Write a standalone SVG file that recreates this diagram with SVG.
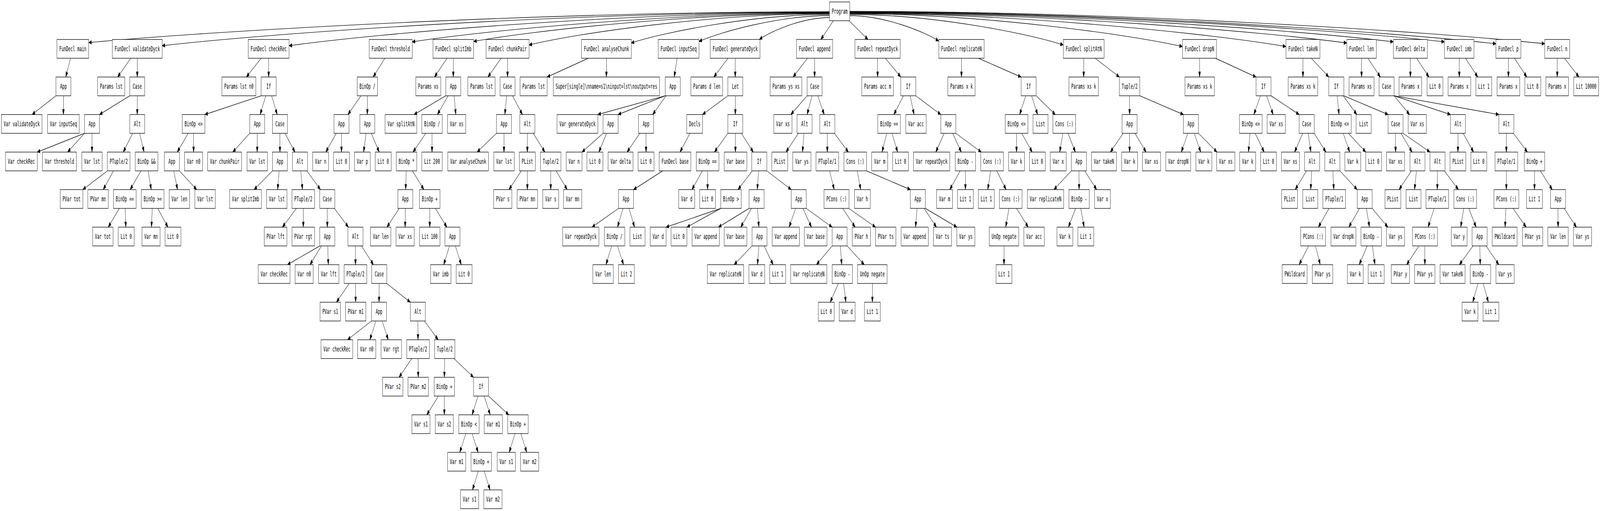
<svg xmlns="http://www.w3.org/2000/svg" width="7670" height="1307" viewBox="0 0 7670 1307" preserveAspectRatio="none">
<style>
svg{width:100vw;height:100vh}
.n rect{fill:#fff;stroke:#000;stroke-width:1.33}
.n text{font-family:"DejaVu Sans Mono","Liberation Mono",monospace;font-size:18px;text-anchor:middle;fill:#000}
.e path{fill:none;stroke:#000;stroke-width:1.33;marker-end:url(#ah)}
</style>
<defs>
<marker id="ah" markerUnits="userSpaceOnUse" markerWidth="14" markerHeight="10" refX="13.3" refY="4.7" orient="auto" overflow="visible"><path d="M0,0 L13.3,4.7 L0,9.4 z" fill="#000" stroke="#000" stroke-width="1"/></marker>
</defs>
<rect x="0" y="0" width="7670" height="1307" fill="#fff"/>
<g id="edges" class="e">
<path d="M3976,30 C2591,30 993,80 425,109"/>
<path d="M3976,31 C2728,31 1289,85 777,117"/>
<path d="M3976,32 C2966,32 1800,86 1386,117"/>
<path d="M3976,33 C3196,33 2296,80 1976,107"/>
<path d="M3976,34 C3311,34 2544,79 2271,106"/>
<path d="M3976,35 C3414,35 2766,85 2536,115"/>
<path d="M3976,37 C3606,37 3178,83 3026,110"/>
<path d="M3976,40 C3732,40 3451,82 3351,106"/>
<path d="M3976,45 C3845,45 3694,80 3640,101"/>
<path d="M3995,53 L3935,101"/>
<path d="M4070,53 L4161,101"/>
<path d="M4074,40 C4240,40 4432,81 4500,105"/>
<path d="M4074,37 C4473,37 4933,86 5097,115"/>
<path d="M4074,35 C4696,35 5413,88 5668,119"/>
<path d="M4074,34 C4889,34 5830,88 6164,119"/>
<path d="M4074,33 C5003,33 6075,82 6456,110"/>
<path d="M4074,32 C5090,32 6262,79 6679,107"/>
<path d="M4074,31 C5186,31 6468,79 6924,107"/>
<path d="M4074,30 C5282,30 6676,82 7171,112"/>
<path d="M4074,29 C5373,29 6872,81 7405,112"/>
<path d="M338,149 L315,197"/>
<path d="M268,245 L154,293"/>
<path d="M304,245 L304,293"/>
<path d="M627,149 L564,197"/>
<path d="M658,149 L658,197"/>
<path d="M622,245 L477,293"/>
<path d="M658,245 L658,293"/>
<path d="M405,341 L178.5,389"/>
<path d="M405,341 L324,389"/>
<path d="M441,341 L441,389"/>
<path d="M636,341 L591,389"/>
<path d="M669,341 L691,389"/>
<path d="M515,437 L397,485"/>
<path d="M544,437 L495,485"/>
<path d="M676,437 L624,485"/>
<path d="M710,437 L725,485"/>
<path d="M572,533 L519,581"/>
<path d="M600,533 L603,581"/>
<path d="M730,533 L726,581"/>
<path d="M756,533 L805,581"/>
<path d="M1252,149 L1181,197"/>
<path d="M1288,149 L1288,197"/>
<path d="M1252,245 L982,293"/>
<path d="M1274,245 L1247,293"/>
<path d="M1302,245 L1329,293"/>
<path d="M902,341 L850,389"/>
<path d="M928,341 L928,389"/>
<path d="M1197,341 L1116,389"/>
<path d="M1233,341 L1233,389"/>
<path d="M1342,341 L1342,389"/>
<path d="M1366,341 L1414,389"/>
<path d="M833,437 L851,485"/>
<path d="M860,437 L943,485"/>
<path d="M1306,437 L1218,485"/>
<path d="M1338,437 L1331,485"/>
<path d="M1442,437 L1450,485"/>
<path d="M1471,437 L1536,485"/>
<path d="M1421,533 L1354,581"/>
<path d="M1454,533 L1454,581"/>
<path d="M1569,533 L1569,581"/>
<path d="M1603,533 L1670,581"/>
<path d="M1533,629 L1378,677"/>
<path d="M1541,629 L1486,677"/>
<path d="M1571,629 L1574,677"/>
<path d="M1704,629 L1704,677"/>
<path d="M1733,629 L1790,677"/>
<path d="M1674,725 L1613,773"/>
<path d="M1704,725 L1705,773"/>
<path d="M1818,725 L1817,773"/>
<path d="M1854,725 L1967,773"/>
<path d="M1781,821 L1666,869"/>
<path d="M1802,821 L1773,869"/>
<path d="M1832,821 L1861,869"/>
<path d="M2003,821 L2004,869"/>
<path d="M2035,821 L2100,869"/>
<path d="M1974,917 L1913,965"/>
<path d="M2004,917 L2005,965"/>
<path d="M2132,917 L2130,965"/>
<path d="M2176,917 L2270,965"/>
<path d="M2102,1013 L2046,1061"/>
<path d="M2130,1013 L2130,1061"/>
<path d="M2292,1013 L2263,1061"/>
<path d="M2321,1013 L2350,1061"/>
<path d="M2342,1013 L2439,1061"/>
<path d="M2233,1109 L2204,1157"/>
<path d="M2263,1109 L2292,1157"/>
<path d="M2469,1109 L2441,1157"/>
<path d="M2497,1109 L2525,1157"/>
<path d="M2293,1205 L2265,1253"/>
<path d="M2321,1205 L2349,1253"/>
<path d="M1845,149 L1789,197"/>
<path d="M1730,245 L1668,293"/>
<path d="M1761,245 L1761,293"/>
<path d="M1612,341 L1562,389"/>
<path d="M1637,341 L1637,389"/>
<path d="M1755,341 L1743,389"/>
<path d="M1780,341 L1818,389"/>
<path d="M2143,149 L2083,197"/>
<path d="M2173,149 L2173,197"/>
<path d="M2137,245 L1985,293"/>
<path d="M2148,245 L2097,293"/>
<path d="M2177,245 L2185,293"/>
<path d="M2041,341 L1980,389"/>
<path d="M2071,341 L2071,389"/>
<path d="M1947.5,437 L1944.5,485"/>
<path d="M1977,437 L2032,485"/>
<path d="M1914,533 L1855,581"/>
<path d="M1943,533 L1942,581"/>
<path d="M2060,533 L2060,581"/>
<path d="M2087,533 L2142,581"/>
<path d="M2155,629 L2127,677"/>
<path d="M2183,629 L2211,677"/>
<path d="M2402,149 L2339,197"/>
<path d="M2433,149 L2433,197"/>
<path d="M2429,245 L2420,293"/>
<path d="M2457,245 L2504,293"/>
<path d="M2380,341 L2287,389"/>
<path d="M2416,341 L2416,389"/>
<path d="M2528,341 L2528,389"/>
<path d="M2556,341 L2612,389"/>
<path d="M2499,437 L2440,485"/>
<path d="M2528,437 L2528,485"/>
<path d="M2640,437 L2640,485"/>
<path d="M2666,437 L2719,485"/>
<path d="M2820,149 L2623,197"/>
<path d="M2907,149 L2907,197"/>
<path d="M3246,149 L3232,197"/>
<path d="M3189,245 L2866,293"/>
<path d="M3189,245 L2963,293"/>
<path d="M3193,245 L3129,293"/>
<path d="M2891,341 L2790,389"/>
<path d="M2908,341 L2871,389"/>
<path d="M3067,341 L3006,389"/>
<path d="M3097,341 L3097,389"/>
<path d="M3490,149 L3422,197"/>
<path d="M3524.5,149 L3524.5,197"/>
<path d="M3489,245 L3368,293"/>
<path d="M3525,245 L3525,293"/>
<path d="M3307,341 L3260,389"/>
<path d="M3177,437 L3037,485"/>
<path d="M2965,533 L2838,581"/>
<path d="M2987,533 L2960,581"/>
<path d="M3015,533 L3042,581"/>
<path d="M2932,629 L2905,677"/>
<path d="M2960,629 L2989,677"/>
<path d="M3489,341 L3425,389"/>
<path d="M3525.5,341 L3525.5,389"/>
<path d="M3554,341 L3611,389"/>
<path d="M3367,437 L3317,485"/>
<path d="M3392,437 L3392,485"/>
<path d="M3606,437 L3538,485"/>
<path d="M3637,437 L3630,485"/>
<path d="M3676,437 L3793,485"/>
<path d="M3455,533 L3193,581"/>
<path d="M3455,533 L3293,581"/>
<path d="M3591,533 L3444,581"/>
<path d="M3602,533 L3551,581"/>
<path d="M3631,533 L3638,581"/>
<path d="M3605,629 L3519,677"/>
<path d="M3638,629 L3631,677"/>
<path d="M3663,629 L3706,677"/>
<path d="M3814,533 L3783,581"/>
<path d="M3849,533 L3890,581"/>
<path d="M3865,533 L3989,581"/>
<path d="M3989,629 L3914,677"/>
<path d="M4028,629 L4035,677"/>
<path d="M4061,629 L4143,677"/>
<path d="M4019,725 L3980,773"/>
<path d="M4044,725 L4055,773"/>
<path d="M4182,725 L4182,773"/>
<path d="M3871,149 L3802,197"/>
<path d="M3905,149 L3905,197"/>
<path d="M3869,245 L3791,293"/>
<path d="M3893,245 L3869,293"/>
<path d="M3920,245 L3951,293"/>
<path d="M3827,341 L3768,389"/>
<path d="M3854,341 L3847,389"/>
<path d="M3966,341 L3966,389"/>
<path d="M4000,341 L4067,389"/>
<path d="M3977,437 L3999,485"/>
<path d="M4040,533 L4099,581"/>
<path d="M4069,533 L4197,581"/>
<path d="M4109,437 L4126,485"/>
<path d="M4154,437 L4364,485"/>
<path d="M4396,533 L4389,581"/>
<path d="M4430,533 L4489,581"/>
<path d="M4436,533 L4587,581"/>
<path d="M4207,149 L4207,197"/>
<path d="M4244,149 L4318,197"/>
<path d="M4331,245 L4285,293"/>
<path d="M4363,245 L4382,293"/>
<path d="M4390,245 L4510,293"/>
<path d="M4251,341 L4228,389"/>
<path d="M4276,341 L4303,389"/>
<path d="M4526,341 L4486,389"/>
<path d="M4567,341 L4608,389"/>
<path d="M4582,341 L4704,389"/>
<path d="M4603,437 L4553,485"/>
<path d="M4628,437 L4628,485"/>
<path d="M4749,437 L4735,485"/>
<path d="M4778,437 L4823,485"/>
<path d="M4837,533 L4821,581"/>
<path d="M4873,533 L4929,581"/>
<path d="M4813,629 L4813,677"/>
<path d="M4609,149 L4609,197"/>
<path d="M4690,149 L4895,197"/>
<path d="M4917,245 L4888,293"/>
<path d="M4945,245 L4974,293"/>
<path d="M4967,245 L5059,293"/>
<path d="M4873,341 L4873,389"/>
<path d="M4898,341 L4948,389"/>
<path d="M5095,341 L5080,389"/>
<path d="M5120,341 L5155,389"/>
<path d="M5136,437 L5052,485"/>
<path d="M5172,437 L5173,485"/>
<path d="M5200,437 L5257,485"/>
<path d="M5156,533 L5122,581"/>
<path d="M5181,533 L5197,581"/>
<path d="M5195,149 L5195,197"/>
<path d="M5250,149 L5366,197"/>
<path d="M5415,245 L5415,293"/>
<path d="M5464,245 L5673,293"/>
<path d="M5384,341 L5323,389"/>
<path d="M5415,341 L5415,389"/>
<path d="M5441,341 L5494,389"/>
<path d="M5694,341 L5663,389"/>
<path d="M5725,341 L5756,389"/>
<path d="M5745,341 L5834,389"/>
<path d="M5750.5,149 L5750.5,197"/>
<path d="M5827,149 L6021,197"/>
<path d="M6042,245 L6011,293"/>
<path d="M6072,245 L6103,293"/>
<path d="M6093,245 L6228,293"/>
<path d="M5992,341 L5985,389"/>
<path d="M6017,341 L6060,389"/>
<path d="M6245,341 L6206,389"/>
<path d="M6271,341 L6284,389"/>
<path d="M6300,341 L6356,389"/>
<path d="M6263,437 L6209,485"/>
<path d="M6288,437 L6283,485"/>
<path d="M6389,437 L6394,485"/>
<path d="M6423,437 L6506,485"/>
<path d="M6371,533 L6320,581"/>
<path d="M6273,629 L6228,677"/>
<path d="M6306,629 L6329,677"/>
<path d="M6517,533 L6466,581"/>
<path d="M6550,533 L6565,581"/>
<path d="M6578,533 L6653,581"/>
<path d="M6554,629 L6516,677"/>
<path d="M6579,629 L6591,677"/>
<path d="M6246,149 L6246,197"/>
<path d="M6286,149 L6370,197"/>
<path d="M6410,245 L6419,293"/>
<path d="M6439,245 L6504,293"/>
<path d="M6442,245 L6654,293"/>
<path d="M6439,341 L6470,389"/>
<path d="M6464,341 L6547,389"/>
<path d="M6690,341 L6690,389"/>
<path d="M6716,341 L6769,389"/>
<path d="M6726,341 L6855,389"/>
<path d="M6766,437 L6707,485"/>
<path d="M6790,437 L6781,485"/>
<path d="M6891,437 L6890,485"/>
<path d="M6924,437 L6991,485"/>
<path d="M6875,533 L6846,581"/>
<path d="M6802,629 L6743,677"/>
<path d="M6830.5,629 L6830.5,677"/>
<path d="M7017,533 L7002,581"/>
<path d="M7041,533 L7076,581"/>
<path d="M7061,629 L6996,677"/>
<path d="M7094,629 L7096,677"/>
<path d="M7124,629 L7185,677"/>
<path d="M7085,725 L7060,773"/>
<path d="M7110,725 L7135,773"/>
<path d="M6527,149 L6527,197"/>
<path d="M6557,149 L6617,197"/>
<path d="M6683,245 L6757,293"/>
<path d="M6683,245 L6953,293"/>
<path d="M6683,245 L7185,293"/>
<path d="M6989,341 L6989,389"/>
<path d="M7014,341 L7064,389"/>
<path d="M7221,341 L7221,389"/>
<path d="M7255,341 L7322,389"/>
<path d="M7221,437 L7221,485"/>
<path d="M7219,533 L7215,581"/>
<path d="M7253,533 L7316,581"/>
<path d="M7356,437 L7356,485"/>
<path d="M7384,437 L7441,485"/>
<path d="M7469,533 L7469,581"/>
<path d="M7498,533 L7557,581"/>
<path d="M6761,149 L6761,197"/>
<path d="M6791,149 L6850,197"/>
<path d="M6995.5,149 L6995.5,197"/>
<path d="M7025,149 L7084,197"/>
<path d="M7231,149 L7231,197"/>
<path d="M7260,149 L7319,197"/>
<path d="M7465,149 L7465,197"/>
<path d="M7500,149 L7569,197"/>
</g>
<g id="P" class="n"><rect x="3976.05" y="5" width="97.9" height="48"/><text x="4025" y="35.5">Program</text></g>
<g id="m0" class="n"><rect x="273" y="101" width="152" height="48"/><text x="349" y="131.5">FunDecl main</text></g>
<g id="m1" class="n"><rect x="268" y="197" width="72" height="48"/><text x="304" y="227.5">App</text></g>
<g id="m2" class="n"><rect x="6.3" y="293" width="195.4" height="48"/><text x="104" y="323.5">Var validateDyck</text></g>
<g id="m3" class="n"><rect x="228" y="293" width="152" height="48"/><text x="304" y="323.5">Var inputSeq</text></g>
<g id="v0" class="n"><rect x="538.6" y="101" width="238.8" height="48"/><text x="658" y="131.5">FunDecl validateDyck</text></g>
<g id="v1" class="n"><rect x="467.8" y="197" width="130.4" height="48"/><text x="533" y="227.5">Params lst</text></g>
<g id="v2" class="n"><rect x="622" y="197" width="72" height="48"/><text x="658" y="227.5">Case</text></g>
<g id="v3" class="n"><rect x="405" y="293" width="72" height="48"/><text x="441" y="323.5">App</text></g>
<g id="v4" class="n"><rect x="622" y="293" width="72" height="48"/><text x="658" y="323.5">Alt</text></g>
<g id="v5" class="n"><rect x="26.5" y="389" width="152" height="48"/><text x="102.5" y="419.5">Var checkRec</text></g>
<g id="v6" class="n"><rect x="203.55" y="389" width="162.9" height="48"/><text x="285" y="419.5">Var threshold</text></g>
<g id="v7" class="n"><rect x="392.05" y="389" width="97.9" height="48"/><text x="441" y="419.5">Var lst</text></g>
<g id="v8" class="n"><rect x="514.65" y="389" width="108.7" height="48"/><text x="569" y="419.5">PTuple/2</text></g>
<g id="v9" class="n"><rect x="648.15" y="389" width="108.7" height="48"/><text x="702.5" y="419.5">BinOp &amp;&amp;</text></g>
<g id="v10" class="n"><rect x="288.65" y="485" width="108.7" height="48"/><text x="343" y="515.5">PVar tot</text></g>
<g id="v11" class="n"><rect x="421.05" y="485" width="97.9" height="48"/><text x="470" y="515.5">PVar mn</text></g>
<g id="v12" class="n"><rect x="543.65" y="485" width="108.7" height="48"/><text x="598" y="515.5">BinOp ==</text></g>
<g id="v13" class="n"><rect x="677.65" y="485" width="108.7" height="48"/><text x="732" y="515.5">BinOp &gt;=</text></g>
<g id="v14" class="n"><rect x="444.05" y="581" width="97.9" height="48"/><text x="493" y="611.5">Var tot</text></g>
<g id="v15" class="n"><rect x="566.9" y="581" width="76.2" height="48"/><text x="605" y="611.5">Lit 0</text></g>
<g id="v16" class="n"><rect x="680.5" y="581" width="87" height="48"/><text x="724" y="611.5">Var mn</text></g>
<g id="v17" class="n"><rect x="790.9" y="581" width="76.2" height="48"/><text x="829" y="611.5">Lit 0</text></g>
<g id="c0" class="n"><rect x="1190.3" y="101" width="195.4" height="48"/><text x="1288" y="131.5">FunDecl checkRec</text></g>
<g id="c1" class="n"><rect x="1063.55" y="197" width="162.9" height="48"/><text x="1145" y="227.5">Params lst n0</text></g>
<g id="c2" class="n"><rect x="1252" y="197" width="72" height="48"/><text x="1288" y="227.5">If</text></g>
<g id="c3" class="n"><rect x="873.65" y="293" width="108.7" height="48"/><text x="928" y="323.5">BinOp &lt;=</text></g>
<g id="c4" class="n"><rect x="1197" y="293" width="72" height="48"/><text x="1233" y="323.5">App</text></g>
<g id="c5" class="n"><rect x="1306" y="293" width="72" height="48"/><text x="1342" y="323.5">Case</text></g>
<g id="c6" class="n"><rect x="788" y="389" width="72" height="48"/><text x="824" y="419.5">App</text></g>
<g id="c7" class="n"><rect x="884.5" y="389" width="87" height="48"/><text x="928" y="419.5">Var n0</text></g>
<g id="c8" class="n"><rect x="995.55" y="389" width="162.9" height="48"/><text x="1077" y="419.5">Var chunkPair</text></g>
<g id="c9" class="n"><rect x="1184.05" y="389" width="97.9" height="48"/><text x="1233" y="419.5">Var lst</text></g>
<g id="c10" class="n"><rect x="1306" y="389" width="72" height="48"/><text x="1342" y="419.5">App</text></g>
<g id="c11" class="n"><rect x="1402" y="389" width="72" height="48"/><text x="1438" y="419.5">Alt</text></g>
<g id="c12" class="n"><rect x="811.05" y="485" width="97.9" height="48"/><text x="860" y="515.5">Var len</text></g>
<g id="c13" class="n"><rect x="934.05" y="485" width="97.9" height="48"/><text x="983" y="515.5">Var lst</text></g>
<g id="c14" class="n"><rect x="1101" y="485" width="152" height="48"/><text x="1177" y="515.5">Var splitImb</text></g>
<g id="c15" class="n"><rect x="1278.05" y="485" width="97.9" height="48"/><text x="1327" y="515.5">Var lst</text></g>
<g id="c16" class="n"><rect x="1399.65" y="485" width="108.7" height="48"/><text x="1454" y="515.5">PTuple/2</text></g>
<g id="c17" class="n"><rect x="1533" y="485" width="72" height="48"/><text x="1569" y="515.5">Case</text></g>
<g id="c18" class="n"><rect x="1266.65" y="581" width="108.7" height="48"/><text x="1321" y="611.5">PVar lft</text></g>
<g id="c19" class="n"><rect x="1399.65" y="581" width="108.7" height="48"/><text x="1454" y="611.5">PVar rgt</text></g>
<g id="c20" class="n"><rect x="1533" y="581" width="72" height="48"/><text x="1569" y="611.5">App</text></g>
<g id="c21" class="n"><rect x="1668" y="581" width="72" height="48"/><text x="1704" y="611.5">Alt</text></g>
<g id="c22" class="n"><rect x="1238" y="677" width="152" height="48"/><text x="1314" y="707.5">Var checkRec</text></g>
<g id="c23" class="n"><rect x="1414.5" y="677" width="87" height="48"/><text x="1458" y="707.5">Var n0</text></g>
<g id="c24" class="n"><rect x="1527.05" y="677" width="97.9" height="48"/><text x="1576" y="707.5">Var lft</text></g>
<g id="c25" class="n"><rect x="1649.65" y="677" width="108.7" height="48"/><text x="1704" y="707.5">PTuple/2</text></g>
<g id="c26" class="n"><rect x="1782" y="677" width="72" height="48"/><text x="1818" y="707.5">Case</text></g>
<g id="c27" class="n"><rect x="1534.05" y="773" width="97.9" height="48"/><text x="1583" y="803.5">PVar s1</text></g>
<g id="c28" class="n"><rect x="1656.05" y="773" width="97.9" height="48"/><text x="1705" y="803.5">PVar m1</text></g>
<g id="c29" class="n"><rect x="1781" y="773" width="72" height="48"/><text x="1817" y="803.5">App</text></g>
<g id="c30" class="n"><rect x="1967" y="773" width="72" height="48"/><text x="2003" y="803.5">Alt</text></g>
<g id="c31" class="n"><rect x="1539" y="869" width="152" height="48"/><text x="1615" y="899.5">Var checkRec</text></g>
<g id="c32" class="n"><rect x="1714.5" y="869" width="87" height="48"/><text x="1758" y="899.5">Var n0</text></g>
<g id="c33" class="n"><rect x="1827.05" y="869" width="97.9" height="48"/><text x="1876" y="899.5">Var rgt</text></g>
<g id="c34" class="n"><rect x="1949.65" y="869" width="108.7" height="48"/><text x="2004" y="899.5">PTuple/2</text></g>
<g id="c35" class="n"><rect x="2083.05" y="869" width="97.9" height="48"/><text x="2132" y="899.5">Tuple/2</text></g>
<g id="c36" class="n"><rect x="1834.05" y="965" width="97.9" height="48"/><text x="1883" y="995.5">PVar s2</text></g>
<g id="c37" class="n"><rect x="1956.05" y="965" width="97.9" height="48"/><text x="2005" y="995.5">PVar m2</text></g>
<g id="c38" class="n"><rect x="2081.05" y="965" width="97.9" height="48"/><text x="2130" y="995.5">BinOp +</text></g>
<g id="c39" class="n"><rect x="2270" y="965" width="72" height="48"/><text x="2306" y="995.5">If</text></g>
<g id="c40" class="n"><rect x="1974.5" y="1061" width="87" height="48"/><text x="2018" y="1091.5">Var s1</text></g>
<g id="c41" class="n"><rect x="2086.5" y="1061" width="87" height="48"/><text x="2130" y="1091.5">Var s2</text></g>
<g id="c42" class="n"><rect x="2199.05" y="1061" width="97.9" height="48"/><text x="2248" y="1091.5">BinOp &lt;</text></g>
<g id="c43" class="n"><rect x="2321.5" y="1061" width="87" height="48"/><text x="2365" y="1091.5">Var m1</text></g>
<g id="c44" class="n"><rect x="2434.05" y="1061" width="97.9" height="48"/><text x="2483" y="1091.5">BinOp +</text></g>
<g id="c45" class="n"><rect x="2145.5" y="1157" width="87" height="48"/><text x="2189" y="1187.5">Var m1</text></g>
<g id="c46" class="n"><rect x="2258.05" y="1157" width="97.9" height="48"/><text x="2307" y="1187.5">BinOp +</text></g>
<g id="c47" class="n"><rect x="2383.5" y="1157" width="87" height="48"/><text x="2427" y="1187.5">Var s1</text></g>
<g id="c48" class="n"><rect x="2495.5" y="1157" width="87" height="48"/><text x="2539" y="1187.5">Var m2</text></g>
<g id="c49" class="n"><rect x="2207.5" y="1253" width="87" height="48"/><text x="2251" y="1283.5">Var s1</text></g>
<g id="c50" class="n"><rect x="2319.5" y="1253" width="87" height="48"/><text x="2363" y="1283.5">Var m2</text></g>
<g id="t0" class="n"><rect x="1769.85" y="101" width="206.3" height="48"/><text x="1873" y="131.5">FunDecl threshold</text></g>
<g id="t1" class="n"><rect x="1712.05" y="197" width="97.9" height="48"/><text x="1761" y="227.5">BinOp /</text></g>
<g id="t2" class="n"><rect x="1601" y="293" width="72" height="48"/><text x="1637" y="323.5">App</text></g>
<g id="t3" class="n"><rect x="1725" y="293" width="72" height="48"/><text x="1761" y="323.5">App</text></g>
<g id="t4" class="n"><rect x="1498.9" y="389" width="76.2" height="48"/><text x="1537" y="419.5">Var n</text></g>
<g id="t5" class="n"><rect x="1598.9" y="389" width="76.2" height="48"/><text x="1637" y="419.5">Lit 0</text></g>
<g id="t6" class="n"><rect x="1698.9" y="389" width="76.2" height="48"/><text x="1737" y="419.5">Var p</text></g>
<g id="t7" class="n"><rect x="1798.9" y="389" width="76.2" height="48"/><text x="1837" y="419.5">Lit 0</text></g>
<g id="s0" class="n"><rect x="2075.3" y="101" width="195.4" height="48"/><text x="2173" y="131.5">FunDecl splitImb</text></g>
<g id="s1" class="n"><rect x="1993.2" y="197" width="119.6" height="48"/><text x="2053" y="227.5">Params xs</text></g>
<g id="s2" class="n"><rect x="2137" y="197" width="72" height="48"/><text x="2173" y="227.5">App</text></g>
<g id="s3" class="n"><rect x="1846" y="293" width="152" height="48"/><text x="1922" y="323.5">Var splitAtN</text></g>
<g id="s4" class="n"><rect x="2022.05" y="293" width="97.9" height="48"/><text x="2071" y="323.5">BinOp /</text></g>
<g id="s5" class="n"><rect x="2145.5" y="293" width="87" height="48"/><text x="2189" y="323.5">Var xs</text></g>
<g id="s6" class="n"><rect x="1900.05" y="389" width="97.9" height="48"/><text x="1949" y="419.5">BinOp *</text></g>
<g id="s7" class="n"><rect x="2022.05" y="389" width="97.9" height="48"/><text x="2071" y="419.5">Lit 200</text></g>
<g id="s8" class="n"><rect x="1907" y="485" width="72" height="48"/><text x="1943" y="515.5">App</text></g>
<g id="s9" class="n"><rect x="2011.05" y="485" width="97.9" height="48"/><text x="2060" y="515.5">BinOp +</text></g>
<g id="s10" class="n"><rect x="1776.05" y="581" width="97.9" height="48"/><text x="1825" y="611.5">Var len</text></g>
<g id="s11" class="n"><rect x="1898.5" y="581" width="87" height="48"/><text x="1942" y="611.5">Var xs</text></g>
<g id="s12" class="n"><rect x="2011.05" y="581" width="97.9" height="48"/><text x="2060" y="611.5">Lit 100</text></g>
<g id="s13" class="n"><rect x="2133" y="581" width="72" height="48"/><text x="2169" y="611.5">App</text></g>
<g id="s14" class="n"><rect x="2064.05" y="677" width="97.9" height="48"/><text x="2113" y="707.5">Var imb</text></g>
<g id="s15" class="n"><rect x="2186.9" y="677" width="76.2" height="48"/><text x="2225" y="707.5">Lit 0</text></g>
<g id="k0" class="n"><rect x="2329.85" y="101" width="206.3" height="48"/><text x="2433" y="131.5">FunDecl chunkPair</text></g>
<g id="k1" class="n"><rect x="2242.8" y="197" width="130.4" height="48"/><text x="2308" y="227.5">Params lst</text></g>
<g id="k2" class="n"><rect x="2397" y="197" width="72" height="48"/><text x="2433" y="227.5">Case</text></g>
<g id="k3" class="n"><rect x="2380" y="293" width="72" height="48"/><text x="2416" y="323.5">App</text></g>
<g id="k4" class="n"><rect x="2492" y="293" width="72" height="48"/><text x="2528" y="323.5">Alt</text></g>
<g id="k5" class="n"><rect x="2146.3" y="389" width="195.4" height="48"/><text x="2244" y="419.5">Var analyseChunk</text></g>
<g id="k6" class="n"><rect x="2367.05" y="389" width="97.9" height="48"/><text x="2416" y="419.5">Var lst</text></g>
<g id="k7" class="n"><rect x="2489.9" y="389" width="76.2" height="48"/><text x="2528" y="419.5">PList</text></g>
<g id="k8" class="n"><rect x="2591.05" y="389" width="97.9" height="48"/><text x="2640" y="419.5">Tuple/2</text></g>
<g id="k9" class="n"><rect x="2366.5" y="485" width="87" height="48"/><text x="2410" y="515.5">PVar s</text></g>
<g id="k10" class="n"><rect x="2479.05" y="485" width="97.9" height="48"/><text x="2528" y="515.5">PVar mn</text></g>
<g id="k11" class="n"><rect x="2601.9" y="485" width="76.2" height="48"/><text x="2640" y="515.5">Var s</text></g>
<g id="k12" class="n"><rect x="2701.5" y="485" width="87" height="48"/><text x="2745" y="515.5">Var mn</text></g>
<g id="a0" class="n"><rect x="2787.6" y="101" width="238.8" height="48"/><text x="2907" y="131.5">FunDecl analyseChunk</text></g>
<g id="a1" class="n"><rect x="2492.8" y="197" width="130.4" height="48"/><text x="2558" y="227.5">Params lst</text></g>
<g id="a2" class="n"><rect x="2652.1" y="197" width="509.8" height="48"/><text x="2907" y="227.5">Super[single]\nname=s1\ninput=lst\noutput=res</text></g>
<g id="i0" class="n"><rect x="3155.3" y="101" width="195.4" height="48"/><text x="3253" y="131.5">FunDecl inputSeq</text></g>
<g id="i1" class="n"><rect x="3189" y="197" width="72" height="48"/><text x="3225" y="227.5">App</text></g>
<g id="i2" class="n"><rect x="2670.3" y="293" width="195.4" height="48"/><text x="2768" y="323.5">Var generateDyck</text></g>
<g id="i3" class="n"><rect x="2891" y="293" width="72" height="48"/><text x="2927" y="323.5">App</text></g>
<g id="i4" class="n"><rect x="3061" y="293" width="72" height="48"/><text x="3097" y="323.5">App</text></g>
<g id="i5" class="n"><rect x="2713.9" y="389" width="76.2" height="48"/><text x="2752" y="419.5">Var n</text></g>
<g id="i6" class="n"><rect x="2813.9" y="389" width="76.2" height="48"/><text x="2852" y="419.5">Lit 0</text></g>
<g id="i7" class="n"><rect x="2915.2" y="389" width="119.6" height="48"/><text x="2975" y="419.5">Var delta</text></g>
<g id="i8" class="n"><rect x="3058.9" y="389" width="76.2" height="48"/><text x="3097" y="419.5">Lit 0</text></g>
<g id="g0" class="n"><rect x="3404.6" y="101" width="238.8" height="48"/><text x="3524" y="131.5">FunDecl generateDyck</text></g>
<g id="g1" class="n"><rect x="3312" y="197" width="152" height="48"/><text x="3388" y="227.5">Params d len</text></g>
<g id="g2" class="n"><rect x="3489" y="197" width="72" height="48"/><text x="3525" y="227.5">Let</text></g>
<g id="g3" class="n"><rect x="3291.9" y="293" width="76.2" height="48"/><text x="3330" y="323.5">Decls</text></g>
<g id="g4" class="n"><rect x="3489" y="293" width="72" height="48"/><text x="3525" y="323.5">If</text></g>
<g id="g5" class="n"><rect x="3160" y="389" width="152" height="48"/><text x="3236" y="419.5">FunDecl base</text></g>
<g id="g6" class="n"><rect x="3337.65" y="389" width="108.7" height="48"/><text x="3392" y="419.5">BinOp ==</text></g>
<g id="g7" class="n"><rect x="3471.65" y="389" width="108.7" height="48"/><text x="3526" y="419.5">Var base</text></g>
<g id="g8" class="n"><rect x="3604" y="389" width="72" height="48"/><text x="3640" y="419.5">If</text></g>
<g id="g9" class="n"><rect x="2965" y="485" width="72" height="48"/><text x="3001" y="515.5">App</text></g>
<g id="g10" class="n"><rect x="3253.9" y="485" width="76.2" height="48"/><text x="3292" y="515.5">Var d</text></g>
<g id="g11" class="n"><rect x="3353.9" y="485" width="76.2" height="48"/><text x="3392" y="515.5">Lit 0</text></g>
<g id="g12" class="n"><rect x="3455.05" y="485" width="97.9" height="48"/><text x="3504" y="515.5">BinOp &gt;</text></g>
<g id="g13" class="n"><rect x="3591" y="485" width="72" height="48"/><text x="3627" y="515.5">App</text></g>
<g id="g14" class="n"><rect x="3793" y="485" width="72" height="48"/><text x="3829" y="515.5">App</text></g>
<g id="g15" class="n"><rect x="2697.1" y="581" width="173.8" height="48"/><text x="2784" y="611.5">Var repeatDyck</text></g>
<g id="g16" class="n"><rect x="2897.05" y="581" width="97.9" height="48"/><text x="2946" y="611.5">BinOp /</text></g>
<g id="g17" class="n"><rect x="3020" y="581" width="72" height="48"/><text x="3056" y="611.5">List</text></g>
<g id="g18" class="n"><rect x="3116.9" y="581" width="76.2" height="48"/><text x="3155" y="611.5">Var d</text></g>
<g id="g19" class="n"><rect x="3216.9" y="581" width="76.2" height="48"/><text x="3255" y="611.5">Lit 0</text></g>
<g id="g20" class="n"><rect x="3317.8" y="581" width="130.4" height="48"/><text x="3383" y="611.5">Var append</text></g>
<g id="g21" class="n"><rect x="3471.65" y="581" width="108.7" height="48"/><text x="3526" y="611.5">Var base</text></g>
<g id="g22" class="n"><rect x="3605" y="581" width="72" height="48"/><text x="3641" y="611.5">App</text></g>
<g id="g23" class="n"><rect x="3701.8" y="581" width="130.4" height="48"/><text x="3767" y="611.5">Var append</text></g>
<g id="g24" class="n"><rect x="3855.65" y="581" width="108.7" height="48"/><text x="3910" y="611.5">Var base</text></g>
<g id="g25" class="n"><rect x="3989" y="581" width="72" height="48"/><text x="4025" y="611.5">App</text></g>
<g id="g26" class="n"><rect x="2842.05" y="677" width="97.9" height="48"/><text x="2891" y="707.5">Var len</text></g>
<g id="g27" class="n"><rect x="2964.9" y="677" width="76.2" height="48"/><text x="3003" y="707.5">Lit 2</text></g>
<g id="g28" class="n"><rect x="3391.1" y="677" width="173.8" height="48"/><text x="3478" y="707.5">Var replicateN</text></g>
<g id="g29" class="n"><rect x="3589.9" y="677" width="76.2" height="48"/><text x="3628" y="707.5">Var d</text></g>
<g id="g30" class="n"><rect x="3689.9" y="677" width="76.2" height="48"/><text x="3728" y="707.5">Lit 1</text></g>
<g id="g31" class="n"><rect x="3790.1" y="677" width="173.8" height="48"/><text x="3877" y="707.5">Var replicateN</text></g>
<g id="g32" class="n"><rect x="3989.05" y="677" width="97.9" height="48"/><text x="4038" y="707.5">BinOp -</text></g>
<g id="g33" class="n"><rect x="4111.4" y="677" width="141.2" height="48"/><text x="4182" y="707.5">UnOp negate</text></g>
<g id="g34" class="n"><rect x="3922.9" y="773" width="76.2" height="48"/><text x="3961" y="803.5">Lit 0</text></g>
<g id="g35" class="n"><rect x="4022.9" y="773" width="76.2" height="48"/><text x="4061" y="803.5">Var d</text></g>
<g id="g36" class="n"><rect x="4143.9" y="773" width="76.2" height="48"/><text x="4182" y="803.5">Lit 1</text></g>
<g id="p0" class="n"><rect x="3818.1" y="101" width="173.8" height="48"/><text x="3905" y="131.5">FunDecl append</text></g>
<g id="p1" class="n"><rect x="3692" y="197" width="152" height="48"/><text x="3768" y="227.5">Params ys xs</text></g>
<g id="p2" class="n"><rect x="3869" y="197" width="72" height="48"/><text x="3905" y="227.5">Case</text></g>
<g id="p3" class="n"><rect x="3709.5" y="293" width="87" height="48"/><text x="3753" y="323.5">Var xs</text></g>
<g id="p4" class="n"><rect x="3821" y="293" width="72" height="48"/><text x="3857" y="323.5">Alt</text></g>
<g id="p5" class="n"><rect x="3930" y="293" width="72" height="48"/><text x="3966" y="323.5">Alt</text></g>
<g id="p6" class="n"><rect x="3699.9" y="389" width="76.2" height="48"/><text x="3738" y="419.5">PList</text></g>
<g id="p7" class="n"><rect x="3800.5" y="389" width="87" height="48"/><text x="3844" y="419.5">Var ys</text></g>
<g id="p8" class="n"><rect x="3911.65" y="389" width="108.7" height="48"/><text x="3966" y="419.5">PTuple/1</text></g>
<g id="p9" class="n"><rect x="4045.65" y="389" width="108.7" height="48"/><text x="4100" y="419.5">Cons (:)</text></g>
<g id="p10" class="n"><rect x="3950.2" y="485" width="119.6" height="48"/><text x="4010" y="515.5">PCons (:)</text></g>
<g id="p11" class="n"><rect x="4095.9" y="485" width="76.2" height="48"/><text x="4134" y="515.5">Var h</text></g>
<g id="p12" class="n"><rect x="4364" y="485" width="72" height="48"/><text x="4400" y="515.5">App</text></g>
<g id="p13" class="n"><rect x="4085.5" y="581" width="87" height="48"/><text x="4129" y="611.5">PVar h</text></g>
<g id="p14" class="n"><rect x="4197.05" y="581" width="97.9" height="48"/><text x="4246" y="611.5">PVar ts</text></g>
<g id="p15" class="n"><rect x="4319.8" y="581" width="130.4" height="48"/><text x="4385" y="611.5">Var append</text></g>
<g id="p16" class="n"><rect x="4474.5" y="581" width="87" height="48"/><text x="4518" y="611.5">Var ts</text></g>
<g id="p17" class="n"><rect x="4586.5" y="581" width="87" height="48"/><text x="4630" y="611.5">Var ys</text></g>
<g id="r0" class="n"><rect x="4098.5" y="101" width="217" height="48"/><text x="4207" y="131.5">FunDecl repeatDyck</text></g>
<g id="r1" class="n"><rect x="4131" y="197" width="152" height="48"/><text x="4207" y="227.5">Params acc m</text></g>
<g id="r2" class="n"><rect x="4318" y="197" width="72" height="48"/><text x="4354" y="227.5">If</text></g>
<g id="r3" class="n"><rect x="4207.65" y="293" width="108.7" height="48"/><text x="4262" y="323.5">BinOp ==</text></g>
<g id="r4" class="n"><rect x="4342.05" y="293" width="97.9" height="48"/><text x="4391" y="323.5">Var acc</text></g>
<g id="r5" class="n"><rect x="4510" y="293" width="72" height="48"/><text x="4546" y="323.5">App</text></g>
<g id="r6" class="n"><rect x="4178.9" y="389" width="76.2" height="48"/><text x="4217" y="419.5">Var m</text></g>
<g id="r7" class="n"><rect x="4278.9" y="389" width="76.2" height="48"/><text x="4317" y="419.5">Lit 0</text></g>
<g id="r8" class="n"><rect x="4379.1" y="389" width="173.8" height="48"/><text x="4466" y="419.5">Var repeatDyck</text></g>
<g id="r9" class="n"><rect x="4579.05" y="389" width="97.9" height="48"/><text x="4628" y="419.5">BinOp -</text></g>
<g id="r10" class="n"><rect x="4701.65" y="389" width="108.7" height="48"/><text x="4756" y="419.5">Cons (:)</text></g>
<g id="r11" class="n"><rect x="4489.9" y="485" width="76.2" height="48"/><text x="4528" y="515.5">Var m</text></g>
<g id="r12" class="n"><rect x="4589.9" y="485" width="76.2" height="48"/><text x="4628" y="515.5">Lit 1</text></g>
<g id="r13" class="n"><rect x="4689.9" y="485" width="76.2" height="48"/><text x="4728" y="515.5">Lit 1</text></g>
<g id="r14" class="n"><rect x="4790.65" y="485" width="108.7" height="48"/><text x="4845" y="515.5">Cons (:)</text></g>
<g id="r15" class="n"><rect x="4742.4" y="581" width="141.2" height="48"/><text x="4813" y="611.5">UnOp negate</text></g>
<g id="r16" class="n"><rect x="4908.05" y="581" width="97.9" height="48"/><text x="4957" y="611.5">Var acc</text></g>
<g id="r17" class="n"><rect x="4774.9" y="677" width="76.2" height="48"/><text x="4813" y="707.5">Lit 1</text></g>
<g id="q0" class="n"><rect x="4500.5" y="101" width="217" height="48"/><text x="4609" y="131.5">FunDecl replicateN</text></g>
<g id="q1" class="n"><rect x="4543.8" y="197" width="130.4" height="48"/><text x="4609" y="227.5">Params x k</text></g>
<g id="q2" class="n"><rect x="4895" y="197" width="72" height="48"/><text x="4931" y="227.5">If</text></g>
<g id="q3" class="n"><rect x="4818.65" y="293" width="108.7" height="48"/><text x="4873" y="323.5">BinOp &lt;=</text></g>
<g id="q4" class="n"><rect x="4952" y="293" width="72" height="48"/><text x="4988" y="323.5">List</text></g>
<g id="q5" class="n"><rect x="5047.65" y="293" width="108.7" height="48"/><text x="5102" y="323.5">Cons (:)</text></g>
<g id="q6" class="n"><rect x="4834.9" y="389" width="76.2" height="48"/><text x="4873" y="419.5">Var k</text></g>
<g id="q7" class="n"><rect x="4934.9" y="389" width="76.2" height="48"/><text x="4973" y="419.5">Lit 0</text></g>
<g id="q8" class="n"><rect x="5034.9" y="389" width="76.2" height="48"/><text x="5073" y="419.5">Var x</text></g>
<g id="q9" class="n"><rect x="5136" y="389" width="72" height="48"/><text x="5172" y="419.5">App</text></g>
<g id="q10" class="n"><rect x="4925.1" y="485" width="173.8" height="48"/><text x="5012" y="515.5">Var replicateN</text></g>
<g id="q11" class="n"><rect x="5124.05" y="485" width="97.9" height="48"/><text x="5173" y="515.5">BinOp -</text></g>
<g id="q12" class="n"><rect x="5246.9" y="485" width="76.2" height="48"/><text x="5285" y="515.5">Var x</text></g>
<g id="q13" class="n"><rect x="5066.9" y="581" width="76.2" height="48"/><text x="5105" y="611.5">Var k</text></g>
<g id="q14" class="n"><rect x="5166.9" y="581" width="76.2" height="48"/><text x="5205" y="611.5">Lit 1</text></g>
<g id="x0" class="n"><rect x="5097.3" y="101" width="195.4" height="48"/><text x="5195" y="131.5">FunDecl splitAtN</text></g>
<g id="x1" class="n"><rect x="5124.4" y="197" width="141.2" height="48"/><text x="5195" y="227.5">Params xs k</text></g>
<g id="x2" class="n"><rect x="5366.05" y="197" width="97.9" height="48"/><text x="5415" y="227.5">Tuple/2</text></g>
<g id="x3" class="n"><rect x="5379" y="293" width="72" height="48"/><text x="5415" y="323.5">App</text></g>
<g id="x4" class="n"><rect x="5673" y="293" width="72" height="48"/><text x="5709" y="323.5">App</text></g>
<g id="x5" class="n"><rect x="5232.2" y="389" width="119.6" height="48"/><text x="5292" y="419.5">Var takeN</text></g>
<g id="x6" class="n"><rect x="5376.9" y="389" width="76.2" height="48"/><text x="5415" y="419.5">Var k</text></g>
<g id="x7" class="n"><rect x="5476.5" y="389" width="87" height="48"/><text x="5520" y="419.5">Var xs</text></g>
<g id="x8" class="n"><rect x="5588.2" y="389" width="119.6" height="48"/><text x="5648" y="419.5">Var dropN</text></g>
<g id="x9" class="n"><rect x="5732.9" y="389" width="76.2" height="48"/><text x="5771" y="419.5">Var k</text></g>
<g id="x10" class="n"><rect x="5832.5" y="389" width="87" height="48"/><text x="5876" y="419.5">Var xs</text></g>
<g id="d0" class="n"><rect x="5668.55" y="101" width="162.9" height="48"/><text x="5750" y="131.5">FunDecl dropN</text></g>
<g id="d1" class="n"><rect x="5680.4" y="197" width="141.2" height="48"/><text x="5751" y="227.5">Params xs k</text></g>
<g id="d2" class="n"><rect x="6021" y="197" width="72" height="48"/><text x="6057" y="227.5">If</text></g>
<g id="d3" class="n"><rect x="5941.65" y="293" width="108.7" height="48"/><text x="5996" y="323.5">BinOp &lt;=</text></g>
<g id="d4" class="n"><rect x="6074.5" y="293" width="87" height="48"/><text x="6118" y="323.5">Var xs</text></g>
<g id="d5" class="n"><rect x="6228" y="293" width="72" height="48"/><text x="6264" y="323.5">Case</text></g>
<g id="d6" class="n"><rect x="5942.9" y="389" width="76.2" height="48"/><text x="5981" y="419.5">Var k</text></g>
<g id="d7" class="n"><rect x="6042.9" y="389" width="76.2" height="48"/><text x="6081" y="419.5">Lit 0</text></g>
<g id="d8" class="n"><rect x="6142.5" y="389" width="87" height="48"/><text x="6186" y="419.5">Var xs</text></g>
<g id="d9" class="n"><rect x="6254" y="389" width="72" height="48"/><text x="6290" y="419.5">Alt</text></g>
<g id="d10" class="n"><rect x="6351" y="389" width="72" height="48"/><text x="6387" y="419.5">Alt</text></g>
<g id="d11" class="n"><rect x="6143.9" y="485" width="76.2" height="48"/><text x="6182" y="515.5">PList</text></g>
<g id="d12" class="n"><rect x="6245" y="485" width="72" height="48"/><text x="6281" y="515.5">List</text></g>
<g id="d13" class="n"><rect x="6341.65" y="485" width="108.7" height="48"/><text x="6396" y="515.5">PTuple/1</text></g>
<g id="d14" class="n"><rect x="6506" y="485" width="72" height="48"/><text x="6542" y="515.5">App</text></g>
<g id="d15" class="n"><rect x="6235.2" y="581" width="119.6" height="48"/><text x="6295" y="611.5">PCons (:)</text></g>
<g id="d16" class="n"><rect x="6380.2" y="581" width="119.6" height="48"/><text x="6440" y="611.5">Var dropN</text></g>
<g id="d17" class="n"><rect x="6524.05" y="581" width="97.9" height="48"/><text x="6573" y="611.5">BinOp -</text></g>
<g id="d18" class="n"><rect x="6646.5" y="581" width="87" height="48"/><text x="6690" y="611.5">Var ys</text></g>
<g id="d19" class="n"><rect x="6146.2" y="677" width="119.6" height="48"/><text x="6206" y="707.5">PWildcard</text></g>
<g id="d20" class="n"><rect x="6291.05" y="677" width="97.9" height="48"/><text x="6340" y="707.5">PVar ys</text></g>
<g id="d21" class="n"><rect x="6458.9" y="677" width="76.2" height="48"/><text x="6497" y="707.5">Var k</text></g>
<g id="d22" class="n"><rect x="6558.9" y="677" width="76.2" height="48"/><text x="6597" y="707.5">Lit 1</text></g>
<g id="e0" class="n"><rect x="6164.55" y="101" width="162.9" height="48"/><text x="6246" y="131.5">FunDecl takeN</text></g>
<g id="e1" class="n"><rect x="6175.4" y="197" width="141.2" height="48"/><text x="6246" y="227.5">Params xs k</text></g>
<g id="e2" class="n"><rect x="6370" y="197" width="72" height="48"/><text x="6406" y="227.5">If</text></g>
<g id="e3" class="n"><rect x="6368.65" y="293" width="108.7" height="48"/><text x="6423" y="323.5">BinOp &lt;=</text></g>
<g id="e4" class="n"><rect x="6501" y="293" width="72" height="48"/><text x="6537" y="323.5">List</text></g>
<g id="e5" class="n"><rect x="6654" y="293" width="72" height="48"/><text x="6690" y="323.5">Case</text></g>
<g id="e6" class="n"><rect x="6446.9" y="389" width="76.2" height="48"/><text x="6485" y="419.5">Var k</text></g>
<g id="e7" class="n"><rect x="6546.9" y="389" width="76.2" height="48"/><text x="6585" y="419.5">Lit 0</text></g>
<g id="e8" class="n"><rect x="6646.5" y="389" width="87" height="48"/><text x="6690" y="419.5">Var xs</text></g>
<g id="e9" class="n"><rect x="6759" y="389" width="72" height="48"/><text x="6795" y="419.5">Alt</text></g>
<g id="e10" class="n"><rect x="6855" y="389" width="72" height="48"/><text x="6891" y="419.5">Alt</text></g>
<g id="e11" class="n"><rect x="6638.9" y="485" width="76.2" height="48"/><text x="6677" y="515.5">PList</text></g>
<g id="e12" class="n"><rect x="6740" y="485" width="72" height="48"/><text x="6776" y="515.5">List</text></g>
<g id="e13" class="n"><rect x="6835.65" y="485" width="108.7" height="48"/><text x="6890" y="515.5">PTuple/1</text></g>
<g id="e14" class="n"><rect x="6969.65" y="485" width="108.7" height="48"/><text x="7024" y="515.5">Cons (:)</text></g>
<g id="e15" class="n"><rect x="6771.2" y="581" width="119.6" height="48"/><text x="6831" y="611.5">PCons (:)</text></g>
<g id="e16" class="n"><rect x="6956.9" y="581" width="76.2" height="48"/><text x="6995" y="611.5">Var y</text></g>
<g id="e17" class="n"><rect x="7057" y="581" width="72" height="48"/><text x="7093" y="611.5">App</text></g>
<g id="e18" class="n"><rect x="6669.5" y="677" width="87" height="48"/><text x="6713" y="707.5">PVar y</text></g>
<g id="e19" class="n"><rect x="6781.05" y="677" width="97.9" height="48"/><text x="6830" y="707.5">PVar ys</text></g>
<g id="e20" class="n"><rect x="6903.2" y="677" width="119.6" height="48"/><text x="6963" y="707.5">Var takeN</text></g>
<g id="e21" class="n"><rect x="7048.05" y="677" width="97.9" height="48"/><text x="7097" y="707.5">BinOp -</text></g>
<g id="e22" class="n"><rect x="7171.5" y="677" width="87" height="48"/><text x="7215" y="707.5">Var ys</text></g>
<g id="e23" class="n"><rect x="7008.9" y="773" width="76.2" height="48"/><text x="7047" y="803.5">Var k</text></g>
<g id="e24" class="n"><rect x="7108.9" y="773" width="76.2" height="48"/><text x="7147" y="803.5">Lit 1</text></g>
<g id="l0" class="n"><rect x="6456.4" y="101" width="141.2" height="48"/><text x="6527" y="131.5">FunDecl len</text></g>
<g id="l1" class="n"><rect x="6467.2" y="197" width="119.6" height="48"/><text x="6527" y="227.5">Params xs</text></g>
<g id="l2" class="n"><rect x="6611" y="197" width="72" height="48"/><text x="6647" y="227.5">Case</text></g>
<g id="l3" class="n"><rect x="6750.5" y="293" width="87" height="48"/><text x="6794" y="323.5">Var xs</text></g>
<g id="l4" class="n"><rect x="6953" y="293" width="72" height="48"/><text x="6989" y="323.5">Alt</text></g>
<g id="l5" class="n"><rect x="7185" y="293" width="72" height="48"/><text x="7221" y="323.5">Alt</text></g>
<g id="l6" class="n"><rect x="6950.9" y="389" width="76.2" height="48"/><text x="6989" y="419.5">PList</text></g>
<g id="l7" class="n"><rect x="7050.9" y="389" width="76.2" height="48"/><text x="7089" y="419.5">Lit 0</text></g>
<g id="l8" class="n"><rect x="7166.65" y="389" width="108.7" height="48"/><text x="7221" y="419.5">PTuple/1</text></g>
<g id="l9" class="n"><rect x="7307.05" y="389" width="97.9" height="48"/><text x="7356" y="419.5">BinOp +</text></g>
<g id="l10" class="n"><rect x="7161.2" y="485" width="119.6" height="48"/><text x="7221" y="515.5">PCons (:)</text></g>
<g id="l11" class="n"><rect x="7317.9" y="485" width="76.2" height="48"/><text x="7356" y="515.5">Lit 1</text></g>
<g id="l12" class="n"><rect x="7433" y="485" width="72" height="48"/><text x="7469" y="515.5">App</text></g>
<g id="l13" class="n"><rect x="7153.2" y="581" width="119.6" height="48"/><text x="7213" y="611.5">PWildcard</text></g>
<g id="l14" class="n"><rect x="7298.05" y="581" width="97.9" height="48"/><text x="7347" y="611.5">PVar ys</text></g>
<g id="l15" class="n"><rect x="7420.05" y="581" width="97.9" height="48"/><text x="7469" y="611.5">Var len</text></g>
<g id="l16" class="n"><rect x="7542.5" y="581" width="87" height="48"/><text x="7586" y="611.5">Var ys</text></g>
<g id="de0" class="n"><rect x="6679.55" y="101" width="162.9" height="48"/><text x="6761" y="131.5">FunDecl delta</text></g>
<g id="de1" class="n"><rect x="6706.65" y="197" width="108.7" height="48"/><text x="6761" y="227.5">Params x</text></g>
<g id="de2" class="n"><rect x="6840.9" y="197" width="76.2" height="48"/><text x="6879" y="227.5">Lit 0</text></g>
<g id="im0" class="n"><rect x="6924.4" y="101" width="141.2" height="48"/><text x="6995" y="131.5">FunDecl imb</text></g>
<g id="im1" class="n"><rect x="6941.65" y="197" width="108.7" height="48"/><text x="6996" y="227.5">Params x</text></g>
<g id="im2" class="n"><rect x="7074.9" y="197" width="76.2" height="48"/><text x="7113" y="227.5">Lit 1</text></g>
<g id="pp0" class="n"><rect x="7171.2" y="101" width="119.6" height="48"/><text x="7231" y="131.5">FunDecl p</text></g>
<g id="pp1" class="n"><rect x="7176.65" y="197" width="108.7" height="48"/><text x="7231" y="227.5">Params x</text></g>
<g id="pp2" class="n"><rect x="7309.9" y="197" width="76.2" height="48"/><text x="7348" y="227.5">Lit 8</text></g>
<g id="nn0" class="n"><rect x="7405.2" y="101" width="119.6" height="48"/><text x="7465" y="131.5">FunDecl n</text></g>
<g id="nn1" class="n"><rect x="7410.65" y="197" width="108.7" height="48"/><text x="7465" y="227.5">Params x</text></g>
<g id="nn2" class="n"><rect x="7544.2" y="197" width="119.6" height="48"/><text x="7604" y="227.5">Lit 10000</text></g>
</svg>
